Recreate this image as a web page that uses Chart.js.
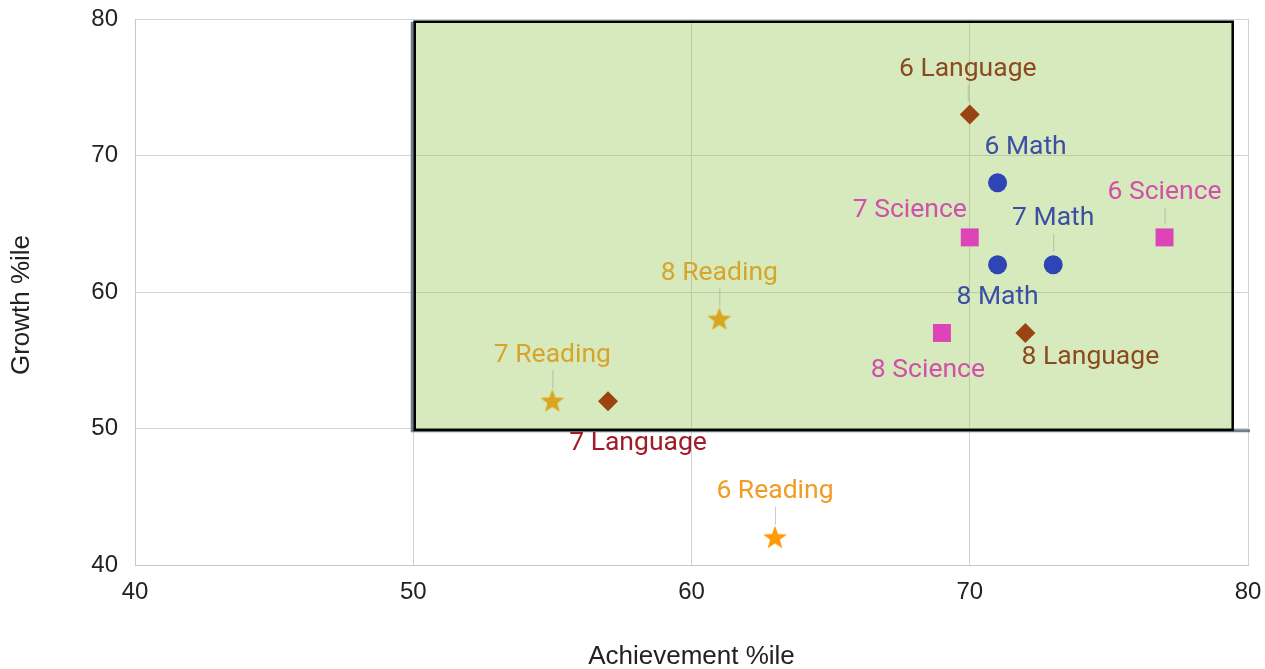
<!DOCTYPE html>
<html>
<head>
<meta charset="utf-8">
<script src="https://cdn.jsdelivr.net/npm/chart.js@4.4.1/dist/chart.umd.min.js"></script>
<style>
  html, body { margin: 0; padding: 0; background: #fff; }
  canvas { display: block; }
</style>
</head>
<body>
<canvas id="scatter" width="1265" height="669"></canvas>
<script>
// grade order for every series: 6, 7, 8
const grades = ["6", "7", "8"];

const languageAch = [70, 57, 72];
const languageGrowth = [73, 52, 57];

const mathAch = [71, 73, 71];
const mathGrowth = [68, 62, 62];

const scienceAch = [77, 70, 69];
const scienceGrowth = [64, 64, 57];

const readingAch = [63, 55, 61];
const readingGrowth = [42, 52, 58];

const xTicks = [40, 50, 60, 70, 80];
const yTicks = [40, 50, 60, 70, 80];

// target box (achievement / growth)
const boxX = [50, 79.45];
const boxY = [49.9, 79.8];

// label placement, pixels from the point: [dx, dy, leader line]
const labelPos = {
    "6 Language": [-2, -45, true],
    "7 Language": [30, 42, false],
    "8 Language": [65, 24, false],
    "6 Math": [28, -35, false],
    "7 Math": [0, -46, true],
    "8 Math": [0, 33, false],
    "6 Science": [0, -45, true],
    "7 Science": [-60, -27, false],
    "8 Science": [-14, 37, false],
    "6 Reading": [0, -46, true],
    "7 Reading": [0, -46, true],
    "8 Reading": [0, -46, true]
};

function makeStar(color) {
    const c = document.createElement("canvas");
    c.width = 26;
    c.height = 26;
    const g = c.getContext("2d");
    g.fillStyle = color;
    g.beginPath();
    for (let i = 0; i < 10; i++) {
        const r = i % 2 === 0 ? 12.5 : 5.2;
        const a = -Math.PI / 2 + i * Math.PI / 5;
        const px = 13 + r * Math.cos(a);
        const py = 13.5 + r * Math.sin(a);
        if (i === 0) g.moveTo(px, py); else g.lineTo(px, py);
    }
    g.closePath();
    g.fill();
    return c;
}

const goldStar = makeStar("#dba520");
const orangeStar = makeStar("#ff9a0a");

function toPoints(ach, growth) {
    return ach.map((x, i) => ({ x, y: growth[i] }));
}

const datasets = [
    {
        label: "Language",
        data: toPoints(languageAch, languageGrowth),
        pointStyle: "rectRot",
        pointRadius: 10,
        backgroundColor: "#9b4413",
        borderWidth: 0,
        labelColors: ["#8c4b1e", "#a01c28", "#8c4b1e"]
    },
    {
        label: "Math",
        data: toPoints(mathAch, mathGrowth),
        pointStyle: "circle",
        pointRadius: 9.5,
        backgroundColor: "#2f45b6",
        borderWidth: 0,
        labelColors: ["#3d4fa3", "#3d4fa3", "#3d4fa3"]
    },
    {
        label: "Science",
        data: toPoints(scienceAch, scienceGrowth),
        pointStyle: "rect",
        pointRadius: 12.7,
        backgroundColor: "#dd44b8",
        borderWidth: 0,
        labelColors: ["#d24fab", "#d24fab", "#d24fab"]
    },
    {
        label: "Reading",
        data: toPoints(readingAch, readingGrowth),
        pointStyle: [orangeStar, goldStar, goldStar],
        pointRadius: 12,
        backgroundColor: "#dba520",
        borderWidth: 0,
        labelColors: ["#f29b25", "#d6a52a", "#d6a52a"]
    }
];

const targetBox = {
    id: "targetBox",
    beforeDatasetsDraw(chart) {
        const { ctx, scales: { x, y } } = chart;
        const l = x.getPixelForValue(boxX[0]);
        const r = x.getPixelForValue(boxX[1]);
        const t = y.getPixelForValue(boxY[1]);
        const b = y.getPixelForValue(boxY[0]);
        ctx.save();
        ctx.fillStyle = "rgba(145,198,80,0.37)";
        ctx.fillRect(l, t, r - l, b - t);
        // slate edge under the frame
        ctx.strokeStyle = "#6d808e";
        ctx.lineWidth = 3;
        ctx.beginPath();
        ctx.moveTo(l - 1, t);
        ctx.lineTo(l - 1, b + 1);
        ctx.lineTo(x.getPixelForValue(80) + 2, b + 1);
        ctx.stroke();
        ctx.strokeStyle = "#000";
        ctx.lineWidth = 2.5;
        ctx.strokeRect(l + 1.5, t, r - l - 1.5, b - t);
        ctx.restore();
    }
};

const pointLabels = {
    id: "pointLabels",
    afterDatasetsDraw(chart) {
        const { ctx } = chart;
        ctx.save();
        ctx.font = "26.5px Roboto";
        ctx.textAlign = "center";
        ctx.textBaseline = "middle";
        chart.data.datasets.forEach((ds, di) => {
            const meta = chart.getDatasetMeta(di);
            meta.data.forEach((pt, i) => {
                const text = grades[i] + " " + ds.label;
                const [dx, dy, leader] = labelPos[text];
                if (leader) {
                    ctx.strokeStyle = "rgba(140,140,140,0.45)";
                    ctx.lineWidth = 1;
                    ctx.beginPath();
                    ctx.moveTo(pt.x + dx + 0.5, pt.y + dy + 15);
                    ctx.lineTo(pt.x + dx + 0.5, pt.y - 13);
                    ctx.stroke();
                }
                ctx.fillStyle = ds.labelColors[i];
                ctx.fillText(text, pt.x + dx, pt.y + dy);
            });
        });
        ctx.restore();
    }
};

// y title sits a little below the middle of the axis in the original
const yTitle = {
    id: "yTitle",
    afterDraw(chart) {
        const { ctx } = chart;
        ctx.save();
        ctx.translate(22, 305);
        ctx.rotate(-Math.PI / 2);
        ctx.font = "26px 'Liberation Sans', Arial, sans-serif";
        ctx.fillStyle = "#222";
        ctx.textAlign = "center";
        ctx.textBaseline = "middle";
        ctx.fillText("Growth %ile", 0, 0);
        ctx.restore();
    }
};

const tickFont = { family: "'Liberation Sans', Arial, sans-serif", size: 24 };
const titleFont = { family: "'Liberation Sans', Arial, sans-serif", size: 26, lineHeight: 1 };

new Chart(document.getElementById("scatter"), {
    type: "scatter",
    data: { datasets },
    options: {
        responsive: false,
        animation: false,
        layout: { padding: { top: 19, right: 17, left: 0, bottom: 0 } },
        plugins: {
            legend: { display: false },
            tooltip: { enabled: false }
        },
        scales: {
            x: {
                type: "linear",
                min: 40,
                max: 80,
                afterBuildTicks: s => { s.ticks = xTicks.map(v => ({ value: v })); },
                afterFit: s => {
                    s.height = 104;
                    s.paddingLeft = 0;
                    s.paddingRight = 0;
                },
                ticks: { color: "#222", font: tickFont, padding: 13 },
                grid: { color: "#d2d2d2", drawTicks: false },
                border: { color: "#c8c8c8" },
                title: {
                    display: true,
                    text: "Achievement %ile",
                    color: "#222",
                    font: titleFont,
                    padding: { top: 0, bottom: -1 }
                }
            },
            y: {
                type: "linear",
                min: 40,
                max: 80,
                afterBuildTicks: s => { s.ticks = yTicks.map(v => ({ value: v })); },
                afterFit: s => {
                    s.width = 135;
                    s.paddingTop = 0;
                    s.paddingBottom = 0;
                },
                ticks: { color: "#222", font: tickFont, padding: 17 },
                grid: { color: "#d2d2d2", drawTicks: false },
                border: { color: "#c8c8c8" },
                title: { display: false }
            }
        }
    },
    plugins: [targetBox, pointLabels, yTitle]
});
</script>
</body>
</html>
